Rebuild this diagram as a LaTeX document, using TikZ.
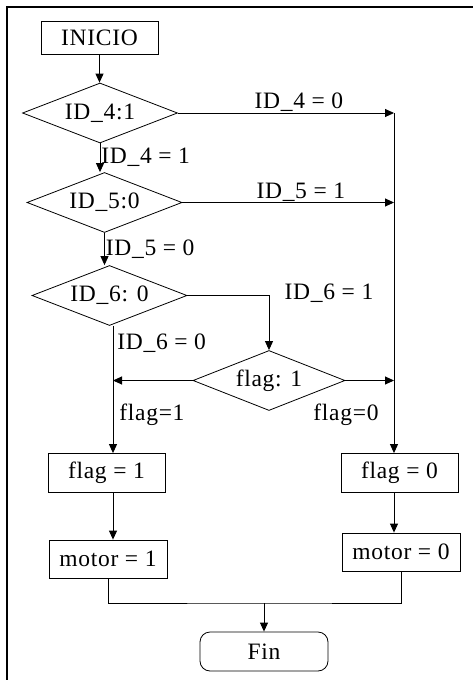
\documentclass[tikz,border=0pt]{standalone}
\usepackage{fontspec}
\setmainfont{Liberation Serif}[LetterSpace=3]
\usetikzlibrary{arrows.meta,shapes.geometric}

\begin{document}
\begin{tikzpicture}[x=1pt, y=-1pt,
        font=\fontsize{23.5}{27}\selectfont,
        line width=0.9pt,
        box/.style={draw, line width=0.8pt, minimum width=117pt, minimum height=39pt, inner sep=2pt},
        cond/.style={draw, diamond, aspect=2.6, minimum width=155pt, minimum height=60pt, inner sep=0pt, line width=0.8pt},
        term/.style={draw, rounded corners=10pt, minimum width=128pt, minimum height=39pt, line width=0.8pt},
        arr/.style={-{Triangle[length=9pt,width=8pt]}},
        lbl/.style={inner sep=1pt}]
        \useasboundingbox (0,0) rectangle (473,680);
        % frame
        \draw[line width=2pt] (7,684) -- (7,7) -- (477,7);

        \coordinate (lcol) at (113,0);
        \coordinate (rcol) at (394,0);

        \node[box, minimum height=33pt] (inicio) at (99.5,37.5) {INICIO};
        \node[cond] (id4) at (100,113) {ID\_4:1};
        \node[cond] (id5) at (104.5,202.5) {ID\_5:0};
        \node[cond] (id6) at (109.5,295.5) {ID\_6: 0};
        \node[cond, minimum width=152pt] (flag) at (269,380.5) {flag: 1};
        \node[box] (flag1) at (106.5,473) {flag = 1};
        \node[box] (flag0) at (399.5,473) {flag = 0};
        \node[box, minimum width=118pt, minimum height=38pt] (motor1) at (108,559) {motor = 1};
        \node[box, minimum width=118pt, minimum height=38pt] (motor0) at (401,552) {motor = 0};
        \node[term] (fin) at (264,651.5) {Fin};
        \coordinate (join) at (264,603);

        % main column
        \draw[arr] (inicio.south) -- (inicio.south |- id4.north);
        \draw[arr] (id4.south) -- node[lbl, right] (l41) {ID\_4 = 1} (id4.south |- id5.north);
        \draw[arr] (id5.south) -- node[lbl, right] (l50) {ID\_5 = 0} (id5.south |- id6.north);
        \draw[arr] (id6.south -| lcol) -- (flag1.north -| lcol);
        \node[lbl, anchor=west] (l60) at (116,343) {ID\_6 = 0};
        \node[lbl, anchor=west] (lf1) at (118,415) {flag=1};

        % right rail
        \draw[arr] (id4.east) -- node[lbl, above, pos=0.56] (l40) {ID\_4 = 0} (id4.east -| rcol);
        \draw[arr] (id5.east) -- node[lbl, above, pos=0.56] (l51) {ID\_5 = 1} (id5.east -| rcol);
        \draw[arr] (id4.east -| rcol) -- (flag0.north -| rcol);

        % flag test
        \draw[arr] (id6.east) -| (flag.north);
        \node[lbl] (l61) at (329,293) {ID\_6 = 1};
        \draw[arr] (flag.west) -- (flag.west -| lcol);
        \draw[arr] (flag.east) -- (flag.east -| rcol);
        \node[lbl] (lf0) at (346,415) {flag=0};

        % outputs
        \draw[arr] (flag1.south -| lcol) -- (motor1.north -| lcol);
        \draw[arr] (flag0.south -| rcol) -- (motor0.north -| rcol);
        \draw (motor1.south) |- (join) -| (motor0.south);
        \draw[arr] (join) -- (fin.north);
    \end{tikzpicture}
\end{document}
